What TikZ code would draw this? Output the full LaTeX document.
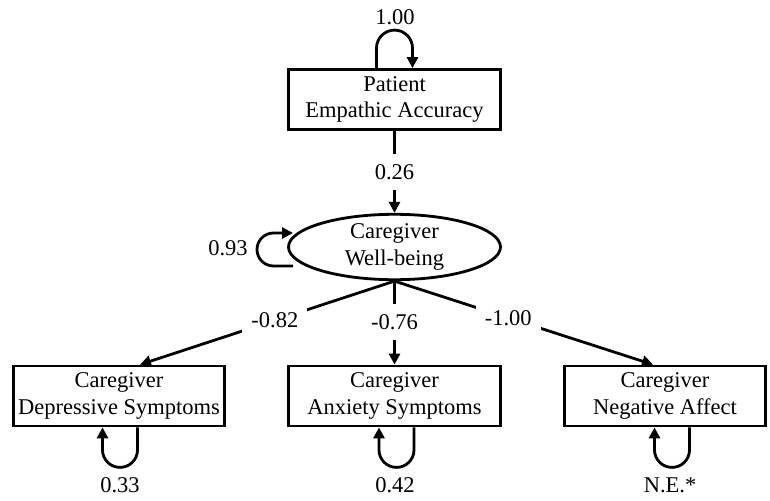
\documentclass[tikz,border=0pt]{standalone}
\usepackage{fontspec}
\setmainfont{Liberation Serif}
\usetikzlibrary{arrows.meta,shapes.geometric,calc}
\begin{document}
\begin{tikzpicture}[x=1pt,y=1pt,
  every node/.append style={font=\fontsize{22.5}{26.5}\selectfont},
  var/.style={draw, line width=2.8pt, minimum width=212pt, minimum height=60pt, align=center, inner sep=0pt},
  lat/.style={ellipse, draw, line width=2.8pt, minimum width=212pt, minimum height=63pt, align=center, inner sep=0pt},
  conn/.style={line width=2.8pt, -{Triangle[length=11pt,width=11pt]}},
  coef/.style={fill=white, inner xsep=9pt, inner ysep=10pt},
  lbl/.style={inner sep=0pt}]
\useasboundingbox (0,0) rectangle (770,-500);
\fill[white] (0,0) rectangle (770,-500);
% nodes
\node[var] (pea) at (394.5,-99.5) {Patient\\Empathic Accuracy};
\node[lat] (wb) at (394.5,-247) {Caregiver\\Well-being};
\node[var, minimum width=211pt] (dep) at (119,-396) {Caregiver\\Depressive Symptoms};
\node[var] (anx) at (394.5,-396) {Caregiver\\Anxiety Symptoms};
\node[var, minimum width=201pt] (neg) at (665,-396) {Caregiver\\Negative Affect};
% paths
\draw[conn] (pea.south) -- node[coef, pos=0.5] (c1) {0.26} (wb.north);
\draw[conn] (wb.south) -- node[coef, pos=0.47] (c2) {-0.82} ([xshift=21pt]dep.north);
\draw[conn] (wb.south) -- node[coef, pos=0.49] (c3) {-0.76} (anx.north);
\draw[conn] (wb.south) -- node[coef, pos=0.44] (c4) {-1.00} ([xshift=-12pt]neg.north);
% self loops
\draw[conn] ([xshift=-18pt]pea.north) -- ++(0,20) arc[start angle=180,end angle=0,radius=18] -- ([xshift=18pt]pea.north);
\node[lbl] (e1) at (395,-17) {1.00};
\draw[conn] ($(wb.center)+(-101.5,-19)$) -- ++(-19.5,0) arc[start angle=270,end angle=90,radius=16.5] -- ($(wb.center)+(-101.5,14)$);
\node[lbl] (e2) at (228,-248) {0.93};
\draw[conn] ([xshift=18.5pt]dep.south) -- ++(0,-22.5) arc[start angle=0,end angle=-180,radius=17.5] -- ([xshift=-16.5pt]dep.south);
\node[lbl] (e3) at (120,-485) {0.33};
\draw[conn] ([xshift=19.5pt]anx.south) -- ++(0,-22.5) arc[start angle=0,end angle=-180,radius=17.5] -- ([xshift=-15.5pt]anx.south);
\node[lbl] (e4) at (395,-485) {0.42};
\draw[conn] ([xshift=24.5pt]neg.south) -- ++(0,-22.5) arc[start angle=0,end angle=-180,radius=17.5] -- ([xshift=-10.5pt]neg.south);
\node[lbl] (e5) at (670,-485) {N.E.*};
\end{tikzpicture}
\end{document}
